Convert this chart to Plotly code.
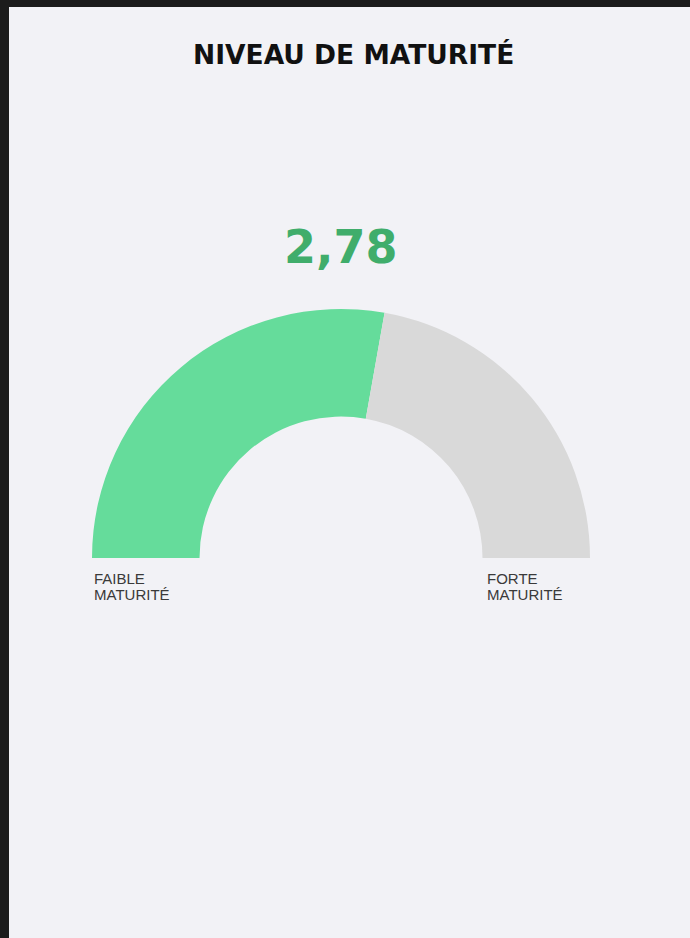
import plotly.graph_objects as go

title = "NIVEAU DE MATURITÉ"
score = 2.78
score_label = "2,78"
scale_min = 0
scale_max = 5
low_label = ["FAIBLE", "MATURITÉ"]
high_label = ["FORTE", "MATURITÉ"]

W, H = 690, 938
BG = "#f2f2f6"
DARK = "#1c1c1c"
GREEN = "#65dc9b"
GREY = "#d9d9d9"
NUM_GREEN = "#40ad6b"

span = scale_max - scale_min
slice_values = [score - scale_min, scale_max - score, span]

cx, cy, R = 341, 558, 249

fig = go.Figure()
fig.add_trace(go.Pie(
    values=slice_values,
    marker=dict(colors=[GREEN, GREY, "rgba(0,0,0,0)"], line=dict(width=0)),
    hole=141.5 / 249,
    sort=False,
    direction="clockwise",
    rotation=270,
    textinfo="none",
    hoverinfo="skip",
    showlegend=False,
    domain=dict(x=[(cx - R) / W, (cx + R) / W], y=[1 - (cy + R) / H, 1 - (cy - R) / H]),
))

def px(x):
    return x / W

def py(y):
    return 1 - y / H

annotations = [
    dict(text=title, x=px(353), y=py(54), xref="paper", yref="paper", showarrow=False,
         xanchor="center", yanchor="middle",
         font=dict(family="DejaVu Sans", size=26.5, color="#111111", weight="bold")),
    dict(text=score_label, x=px(341), y=py(247), xref="paper", yref="paper", showarrow=False,
         xanchor="center", yanchor="middle",
         font=dict(family="DejaVu Sans", size=46, color=NUM_GREEN, weight="bold")),
]
label_font = dict(family="Liberation Sans", size=15, color="#3a3a3a")
for lx, lines in ((92, low_label), (485, high_label)):
    for i, line in enumerate(lines):
        annotations.append(dict(text=line, x=px(lx), y=py(578 + 16 * i), xref="paper", yref="paper",
                                showarrow=False, xanchor="left", yanchor="middle", align="left",
                                font=label_font))

shapes = [
    dict(type="rect", xref="paper", yref="paper", x0=0, x1=1, y0=py(7), y1=1,
         fillcolor=DARK, line=dict(width=0), layer="above"),
    dict(type="rect", xref="paper", yref="paper", x0=0, x1=px(9), y0=0, y1=1,
         fillcolor=DARK, line=dict(width=0), layer="above"),
]

fig.update_layout(
    width=W, height=H,
    margin=dict(l=0, r=0, t=0, b=0),
    paper_bgcolor=BG, plot_bgcolor=BG,
    annotations=annotations, shapes=shapes,
)

fig.write_html("out.html", config={"displayModeBar": False},
               post_script="document.body.style.margin='0';document.body.style.background='#f2f2f6';")
